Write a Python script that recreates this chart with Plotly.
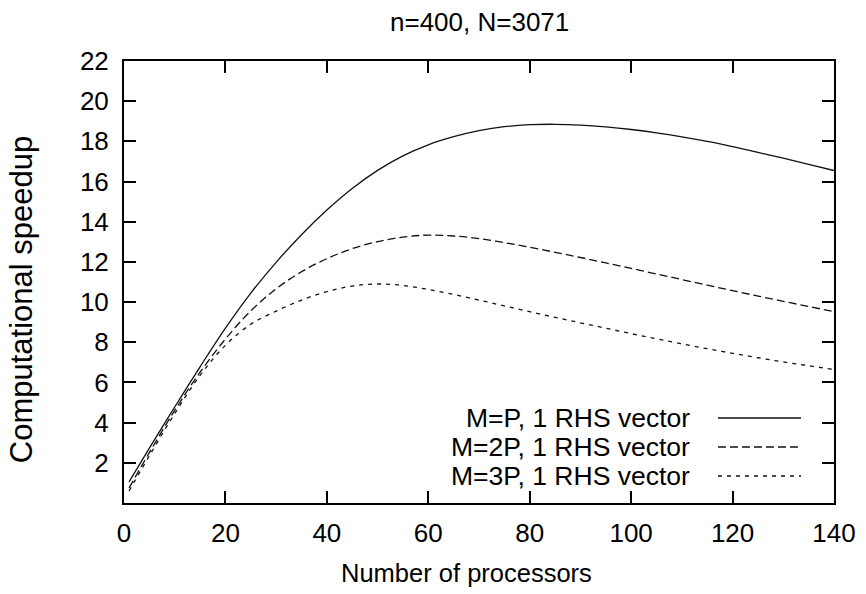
import plotly.graph_objects as go

# ---- data ----
procs = [1, 5, 10, 15, 20, 25, 30, 35, 40, 45, 50, 55, 60, 65, 70, 75, 80, 85,
         90, 95, 100, 105, 110, 115, 120, 125, 130, 135, 140]
speedup_MP = [1.05, 2.73, 4.78, 6.78, 8.705, 10.45, 11.98, 13.355, 14.58, 15.655,
              16.555, 17.28, 17.83, 18.23, 18.53, 18.73, 18.83, 18.85, 18.81,
              18.72, 18.59, 18.425, 18.225, 17.995, 17.735, 17.45, 17.16, 16.86,
              16.55]
speedup_M2P = [0.75, 2.51, 4.61, 6.51, 8.16, 9.56, 10.66, 11.51, 12.16, 12.66,
               13.01, 13.235, 13.335, 13.29, 13.16, 12.96, 12.73, 12.48, 12.22,
               11.95, 11.68, 11.40, 11.12, 10.84, 10.57, 10.3, 10.04, 9.78, 9.53]
speedup_M3P = [0.6, 2.35, 4.45, 6.35, 7.85, 8.9, 9.55, 10.1, 10.52, 10.8, 10.9,
               10.83, 10.63, 10.38, 10.1, 9.81, 9.52, 9.24, 8.97, 8.7, 8.43,
               8.17, 7.92, 7.68, 7.45, 7.23, 7.02, 6.83, 6.65]
series_names = ["M=P, 1 RHS vector", "M=2P, 1 RHS vector", "M=3P, 1 RHS vector"]
x_ticks = [0, 20, 40, 60, 80, 100, 120, 140]
y_ticks = [2, 4, 6, 8, 10, 12, 14, 16, 18, 20, 22]

FONT = "Liberation Sans, Arial, Helvetica, sans-serif"
dashes = ["solid", "8px,4px", "4px,5px"]
series = [speedup_MP, speedup_M2P, speedup_M3P]

fig = go.Figure()
for name, ys, dash in zip(series_names, series, dashes):
    fig.add_trace(go.Scatter(x=procs, y=ys, mode="lines", name=name,
                             line=dict(color="#111111", width=1.3, dash=dash,
                                       shape="spline", smoothing=1.0),
                             showlegend=False))

# manual gnuplot-style legend (text right, line sample on the right)
leg_y = [0.1923, 0.1267, 0.0611]
for name, dash, yy in zip(series_names, dashes, leg_y):
    fig.add_annotation(x=0.8, y=yy, xref="paper", yref="paper", text=name,
                       showarrow=False, xanchor="right", yanchor="middle",
                       font=dict(family=FONT, size=26.5, color="black"))
    fig.add_shape(type="line", xref="paper", yref="paper", x0=0.8366, x1=0.9535,
                  y0=yy, y1=yy, line=dict(color="#111111", width=1.3, dash=dash))

axis_common = dict(showline=True, linecolor="black", linewidth=2, mirror="ticks",
                   ticks="inside", ticklen=12, tickwidth=2, tickcolor="black",
                   showgrid=False, zeroline=False,
                   tickfont=dict(family=FONT, size=26, color="black"))

fig.update_xaxes(range=[0, 140], tickvals=x_ticks, ticklabelstandoff=6, **axis_common)
fig.update_yaxes(range=[0, 22], tickvals=y_ticks, ticklabelstandoff=8, **axis_common)

fig.add_annotation(x=0.483, y=-0.158, xref="paper", yref="paper",
                   text="Number of processors", showarrow=False,
                   xanchor="center", yanchor="middle",
                   font=dict(family=FONT, size=25.5, color="black"))
fig.add_annotation(x=-0.145, y=0.459, xref="paper", yref="paper",
                   text="Computational speedup", showarrow=False, textangle=-90,
                   xanchor="center", yanchor="middle",
                   font=dict(family=FONT, size=31, color="black"))
fig.add_annotation(x=0.5, y=1.088, xref="paper", yref="paper",
                   text="n=400, N=3071", showarrow=False,
                   xanchor="center", yanchor="middle",
                   font=dict(family=FONT, size=26, color="black"))

fig.update_layout(width=866, height=594, paper_bgcolor="white",
                  plot_bgcolor="white",
                  margin=dict(l=124, r=32, t=61, b=91, autoexpand=False))

fig.write_html("out.html")
